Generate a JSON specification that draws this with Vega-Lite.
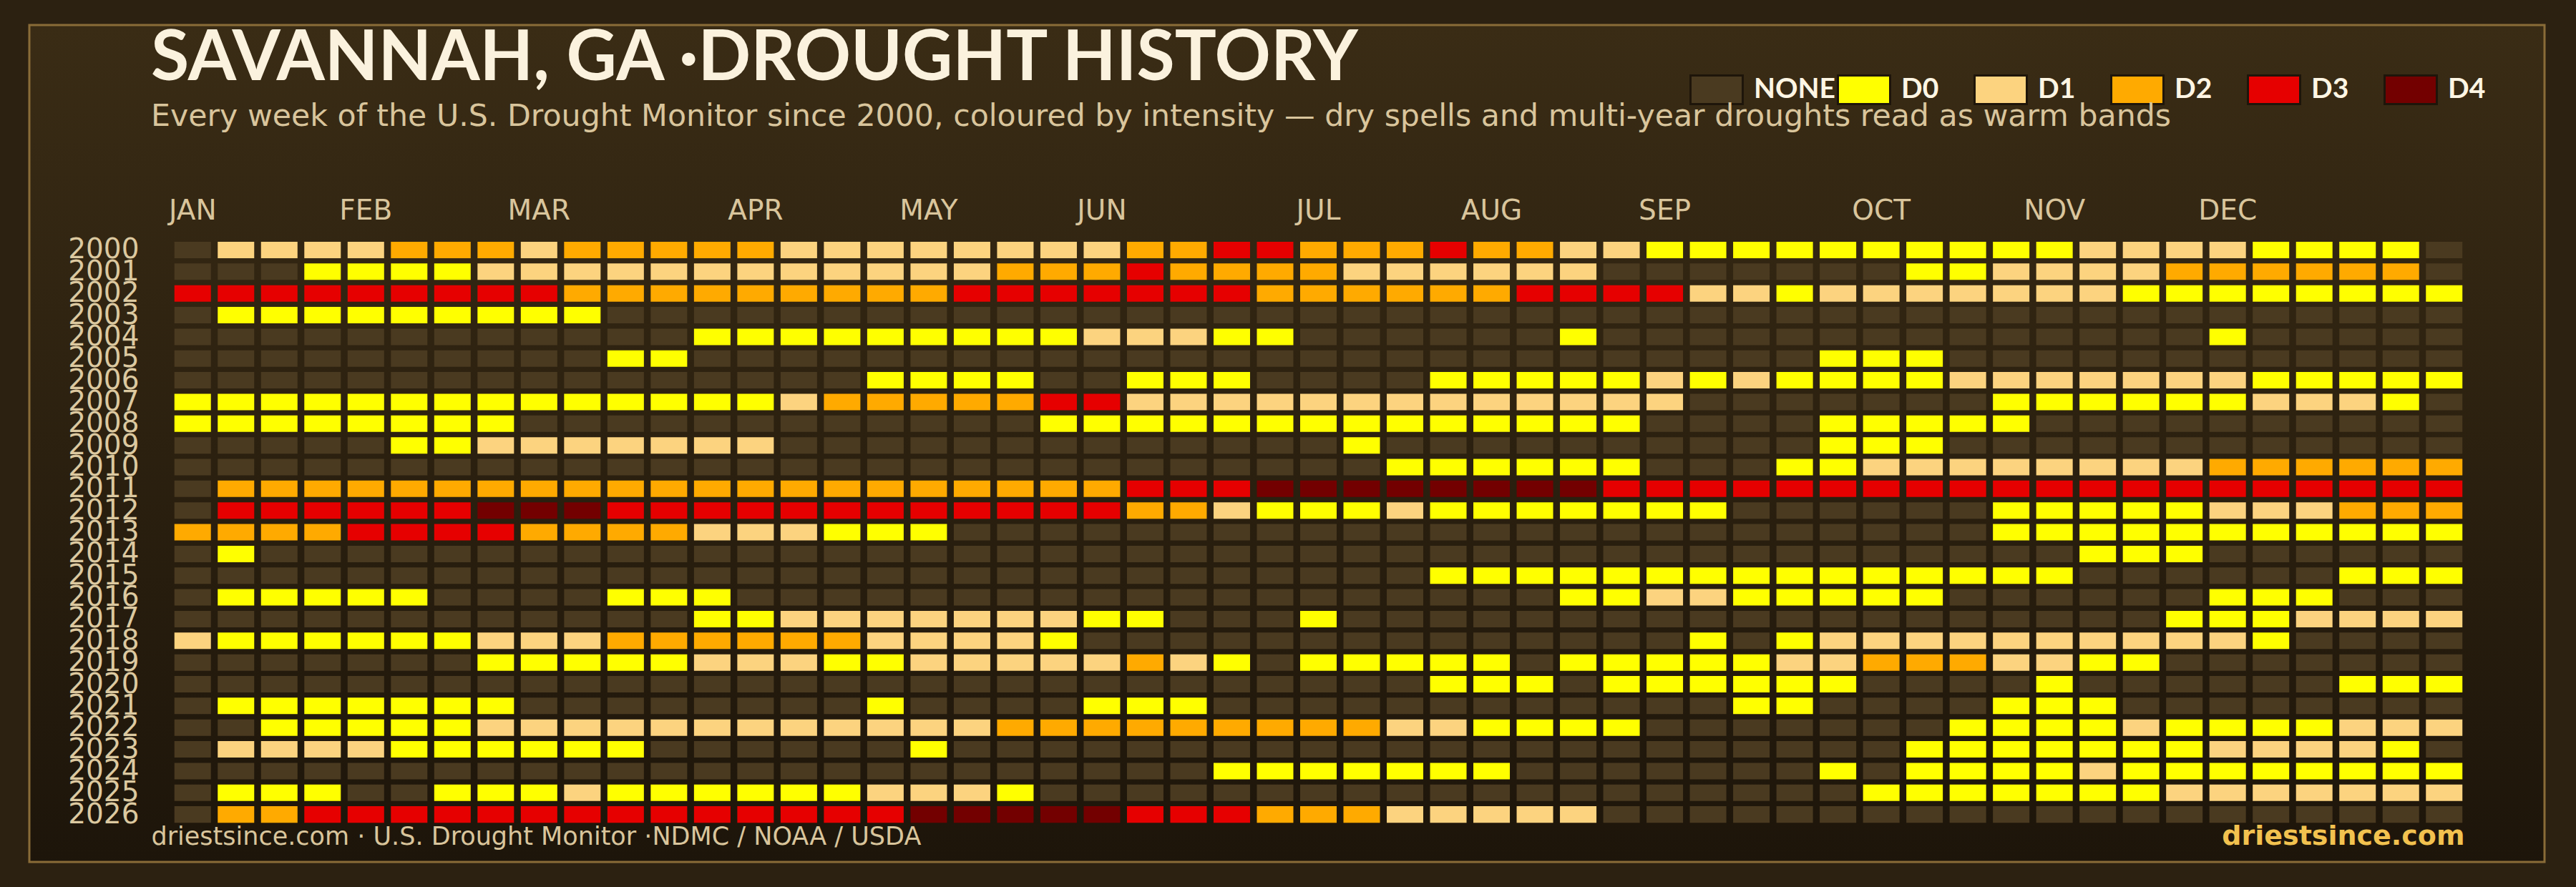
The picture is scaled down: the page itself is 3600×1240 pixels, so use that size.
{
"$schema":"https://vega.github.io/schema/vega-lite/v6.json",
"width":3515,"height":1170,
"autosize":{"type":"none"},
"padding":{"left":41,"top":35,"right":44,"bottom":35},
"background":"#2c2111",
"title":{"text":"SAVANNAH, GA ·DROUGHT HISTORY","subtitle":"Every week of the U.S. Drought Monitor since 2000, coloured by intensity — dry spells and multi-year droughts read as warm bands","anchor":"start","frame":"group","orient":"top","offset":-151,"dx":170,"font":"Lato","fontSize":97,"fontWeight":"bold","color":"#fbf2de","subtitleFont":"DejaVu Sans","subtitleFontSize":42.7,"subtitleColor":"#d9c59c","subtitlePadding":10},
"data":{"values":[
{"year":2000,"week":1,"d":"NONE"},{"year":2000,"week":2,"d":"D1"},{"year":2000,"week":3,"d":"D1"},{"year":2000,"week":4,"d":"D1"},{"year":2000,"week":5,"d":"D1"},{"year":2000,"week":6,"d":"D2"},{"year":2000,"week":7,"d":"D2"},{"year":2000,"week":8,"d":"D2"},{"year":2000,"week":9,"d":"D1"},{"year":2000,"week":10,"d":"D2"},{"year":2000,"week":11,"d":"D2"},{"year":2000,"week":12,"d":"D2"},{"year":2000,"week":13,"d":"D2"},{"year":2000,"week":14,"d":"D2"},{"year":2000,"week":15,"d":"D1"},{"year":2000,"week":16,"d":"D1"},{"year":2000,"week":17,"d":"D1"},{"year":2000,"week":18,"d":"D1"},{"year":2000,"week":19,"d":"D1"},{"year":2000,"week":20,"d":"D1"},{"year":2000,"week":21,"d":"D1"},{"year":2000,"week":22,"d":"D1"},{"year":2000,"week":23,"d":"D2"},{"year":2000,"week":24,"d":"D2"},{"year":2000,"week":25,"d":"D3"},{"year":2000,"week":26,"d":"D3"},{"year":2000,"week":27,"d":"D2"},{"year":2000,"week":28,"d":"D2"},{"year":2000,"week":29,"d":"D2"},{"year":2000,"week":30,"d":"D3"},{"year":2000,"week":31,"d":"D2"},{"year":2000,"week":32,"d":"D2"},{"year":2000,"week":33,"d":"D1"},{"year":2000,"week":34,"d":"D1"},{"year":2000,"week":35,"d":"D0"},{"year":2000,"week":36,"d":"D0"},{"year":2000,"week":37,"d":"D0"},{"year":2000,"week":38,"d":"D0"},{"year":2000,"week":39,"d":"D0"},{"year":2000,"week":40,"d":"D0"},{"year":2000,"week":41,"d":"D0"},{"year":2000,"week":42,"d":"D0"},{"year":2000,"week":43,"d":"D0"},{"year":2000,"week":44,"d":"D0"},{"year":2000,"week":45,"d":"D1"},{"year":2000,"week":46,"d":"D1"},{"year":2000,"week":47,"d":"D1"},{"year":2000,"week":48,"d":"D1"},{"year":2000,"week":49,"d":"D0"},{"year":2000,"week":50,"d":"D0"},{"year":2000,"week":51,"d":"D0"},{"year":2000,"week":52,"d":"D0"},{"year":2000,"week":53,"d":"NONE"},
{"year":2001,"week":1,"d":"NONE"},{"year":2001,"week":2,"d":"NONE"},{"year":2001,"week":3,"d":"NONE"},{"year":2001,"week":4,"d":"D0"},{"year":2001,"week":5,"d":"D0"},{"year":2001,"week":6,"d":"D0"},{"year":2001,"week":7,"d":"D0"},{"year":2001,"week":8,"d":"D1"},{"year":2001,"week":9,"d":"D1"},{"year":2001,"week":10,"d":"D1"},{"year":2001,"week":11,"d":"D1"},{"year":2001,"week":12,"d":"D1"},{"year":2001,"week":13,"d":"D1"},{"year":2001,"week":14,"d":"D1"},{"year":2001,"week":15,"d":"D1"},{"year":2001,"week":16,"d":"D1"},{"year":2001,"week":17,"d":"D1"},{"year":2001,"week":18,"d":"D1"},{"year":2001,"week":19,"d":"D1"},{"year":2001,"week":20,"d":"D2"},{"year":2001,"week":21,"d":"D2"},{"year":2001,"week":22,"d":"D2"},{"year":2001,"week":23,"d":"D3"},{"year":2001,"week":24,"d":"D2"},{"year":2001,"week":25,"d":"D2"},{"year":2001,"week":26,"d":"D2"},{"year":2001,"week":27,"d":"D2"},{"year":2001,"week":28,"d":"D1"},{"year":2001,"week":29,"d":"D1"},{"year":2001,"week":30,"d":"D1"},{"year":2001,"week":31,"d":"D1"},{"year":2001,"week":32,"d":"D1"},{"year":2001,"week":33,"d":"D1"},{"year":2001,"week":34,"d":"NONE"},{"year":2001,"week":35,"d":"NONE"},{"year":2001,"week":36,"d":"NONE"},{"year":2001,"week":37,"d":"NONE"},{"year":2001,"week":38,"d":"NONE"},{"year":2001,"week":39,"d":"NONE"},{"year":2001,"week":40,"d":"NONE"},{"year":2001,"week":41,"d":"D0"},{"year":2001,"week":42,"d":"D0"},{"year":2001,"week":43,"d":"D1"},{"year":2001,"week":44,"d":"D1"},{"year":2001,"week":45,"d":"D1"},{"year":2001,"week":46,"d":"D1"},{"year":2001,"week":47,"d":"D2"},{"year":2001,"week":48,"d":"D2"},{"year":2001,"week":49,"d":"D2"},{"year":2001,"week":50,"d":"D2"},{"year":2001,"week":51,"d":"D2"},{"year":2001,"week":52,"d":"D2"},{"year":2001,"week":53,"d":"NONE"},
{"year":2002,"week":1,"d":"D3"},{"year":2002,"week":2,"d":"D3"},{"year":2002,"week":3,"d":"D3"},{"year":2002,"week":4,"d":"D3"},{"year":2002,"week":5,"d":"D3"},{"year":2002,"week":6,"d":"D3"},{"year":2002,"week":7,"d":"D3"},{"year":2002,"week":8,"d":"D3"},{"year":2002,"week":9,"d":"D3"},{"year":2002,"week":10,"d":"D2"},{"year":2002,"week":11,"d":"D2"},{"year":2002,"week":12,"d":"D2"},{"year":2002,"week":13,"d":"D2"},{"year":2002,"week":14,"d":"D2"},{"year":2002,"week":15,"d":"D2"},{"year":2002,"week":16,"d":"D2"},{"year":2002,"week":17,"d":"D2"},{"year":2002,"week":18,"d":"D2"},{"year":2002,"week":19,"d":"D3"},{"year":2002,"week":20,"d":"D3"},{"year":2002,"week":21,"d":"D3"},{"year":2002,"week":22,"d":"D3"},{"year":2002,"week":23,"d":"D3"},{"year":2002,"week":24,"d":"D3"},{"year":2002,"week":25,"d":"D3"},{"year":2002,"week":26,"d":"D2"},{"year":2002,"week":27,"d":"D2"},{"year":2002,"week":28,"d":"D2"},{"year":2002,"week":29,"d":"D2"},{"year":2002,"week":30,"d":"D2"},{"year":2002,"week":31,"d":"D2"},{"year":2002,"week":32,"d":"D3"},{"year":2002,"week":33,"d":"D3"},{"year":2002,"week":34,"d":"D3"},{"year":2002,"week":35,"d":"D3"},{"year":2002,"week":36,"d":"D1"},{"year":2002,"week":37,"d":"D1"},{"year":2002,"week":38,"d":"D0"},{"year":2002,"week":39,"d":"D1"},{"year":2002,"week":40,"d":"D1"},{"year":2002,"week":41,"d":"D1"},{"year":2002,"week":42,"d":"D1"},{"year":2002,"week":43,"d":"D1"},{"year":2002,"week":44,"d":"D1"},{"year":2002,"week":45,"d":"D1"},{"year":2002,"week":46,"d":"D0"},{"year":2002,"week":47,"d":"D0"},{"year":2002,"week":48,"d":"D0"},{"year":2002,"week":49,"d":"D0"},{"year":2002,"week":50,"d":"D0"},{"year":2002,"week":51,"d":"D0"},{"year":2002,"week":52,"d":"D0"},{"year":2002,"week":53,"d":"D0"},
{"year":2003,"week":1,"d":"NONE"},{"year":2003,"week":2,"d":"D0"},{"year":2003,"week":3,"d":"D0"},{"year":2003,"week":4,"d":"D0"},{"year":2003,"week":5,"d":"D0"},{"year":2003,"week":6,"d":"D0"},{"year":2003,"week":7,"d":"D0"},{"year":2003,"week":8,"d":"D0"},{"year":2003,"week":9,"d":"D0"},{"year":2003,"week":10,"d":"D0"},{"year":2003,"week":11,"d":"NONE"},{"year":2003,"week":12,"d":"NONE"},{"year":2003,"week":13,"d":"NONE"},{"year":2003,"week":14,"d":"NONE"},{"year":2003,"week":15,"d":"NONE"},{"year":2003,"week":16,"d":"NONE"},{"year":2003,"week":17,"d":"NONE"},{"year":2003,"week":18,"d":"NONE"},{"year":2003,"week":19,"d":"NONE"},{"year":2003,"week":20,"d":"NONE"},{"year":2003,"week":21,"d":"NONE"},{"year":2003,"week":22,"d":"NONE"},{"year":2003,"week":23,"d":"NONE"},{"year":2003,"week":24,"d":"NONE"},{"year":2003,"week":25,"d":"NONE"},{"year":2003,"week":26,"d":"NONE"},{"year":2003,"week":27,"d":"NONE"},{"year":2003,"week":28,"d":"NONE"},{"year":2003,"week":29,"d":"NONE"},{"year":2003,"week":30,"d":"NONE"},{"year":2003,"week":31,"d":"NONE"},{"year":2003,"week":32,"d":"NONE"},{"year":2003,"week":33,"d":"NONE"},{"year":2003,"week":34,"d":"NONE"},{"year":2003,"week":35,"d":"NONE"},{"year":2003,"week":36,"d":"NONE"},{"year":2003,"week":37,"d":"NONE"},{"year":2003,"week":38,"d":"NONE"},{"year":2003,"week":39,"d":"NONE"},{"year":2003,"week":40,"d":"NONE"},{"year":2003,"week":41,"d":"NONE"},{"year":2003,"week":42,"d":"NONE"},{"year":2003,"week":43,"d":"NONE"},{"year":2003,"week":44,"d":"NONE"},{"year":2003,"week":45,"d":"NONE"},{"year":2003,"week":46,"d":"NONE"},{"year":2003,"week":47,"d":"NONE"},{"year":2003,"week":48,"d":"NONE"},{"year":2003,"week":49,"d":"NONE"},{"year":2003,"week":50,"d":"NONE"},{"year":2003,"week":51,"d":"NONE"},{"year":2003,"week":52,"d":"NONE"},{"year":2003,"week":53,"d":"NONE"},
{"year":2004,"week":1,"d":"NONE"},{"year":2004,"week":2,"d":"NONE"},{"year":2004,"week":3,"d":"NONE"},{"year":2004,"week":4,"d":"NONE"},{"year":2004,"week":5,"d":"NONE"},{"year":2004,"week":6,"d":"NONE"},{"year":2004,"week":7,"d":"NONE"},{"year":2004,"week":8,"d":"NONE"},{"year":2004,"week":9,"d":"NONE"},{"year":2004,"week":10,"d":"NONE"},{"year":2004,"week":11,"d":"NONE"},{"year":2004,"week":12,"d":"NONE"},{"year":2004,"week":13,"d":"D0"},{"year":2004,"week":14,"d":"D0"},{"year":2004,"week":15,"d":"D0"},{"year":2004,"week":16,"d":"D0"},{"year":2004,"week":17,"d":"D0"},{"year":2004,"week":18,"d":"D0"},{"year":2004,"week":19,"d":"D0"},{"year":2004,"week":20,"d":"D0"},{"year":2004,"week":21,"d":"D0"},{"year":2004,"week":22,"d":"D1"},{"year":2004,"week":23,"d":"D1"},{"year":2004,"week":24,"d":"D1"},{"year":2004,"week":25,"d":"D0"},{"year":2004,"week":26,"d":"D0"},{"year":2004,"week":27,"d":"NONE"},{"year":2004,"week":28,"d":"NONE"},{"year":2004,"week":29,"d":"NONE"},{"year":2004,"week":30,"d":"NONE"},{"year":2004,"week":31,"d":"NONE"},{"year":2004,"week":32,"d":"NONE"},{"year":2004,"week":33,"d":"D0"},{"year":2004,"week":34,"d":"NONE"},{"year":2004,"week":35,"d":"NONE"},{"year":2004,"week":36,"d":"NONE"},{"year":2004,"week":37,"d":"NONE"},{"year":2004,"week":38,"d":"NONE"},{"year":2004,"week":39,"d":"NONE"},{"year":2004,"week":40,"d":"NONE"},{"year":2004,"week":41,"d":"NONE"},{"year":2004,"week":42,"d":"NONE"},{"year":2004,"week":43,"d":"NONE"},{"year":2004,"week":44,"d":"NONE"},{"year":2004,"week":45,"d":"NONE"},{"year":2004,"week":46,"d":"NONE"},{"year":2004,"week":47,"d":"NONE"},{"year":2004,"week":48,"d":"D0"},{"year":2004,"week":49,"d":"NONE"},{"year":2004,"week":50,"d":"NONE"},{"year":2004,"week":51,"d":"NONE"},{"year":2004,"week":52,"d":"NONE"},{"year":2004,"week":53,"d":"NONE"},
{"year":2005,"week":1,"d":"NONE"},{"year":2005,"week":2,"d":"NONE"},{"year":2005,"week":3,"d":"NONE"},{"year":2005,"week":4,"d":"NONE"},{"year":2005,"week":5,"d":"NONE"},{"year":2005,"week":6,"d":"NONE"},{"year":2005,"week":7,"d":"NONE"},{"year":2005,"week":8,"d":"NONE"},{"year":2005,"week":9,"d":"NONE"},{"year":2005,"week":10,"d":"NONE"},{"year":2005,"week":11,"d":"D0"},{"year":2005,"week":12,"d":"D0"},{"year":2005,"week":13,"d":"NONE"},{"year":2005,"week":14,"d":"NONE"},{"year":2005,"week":15,"d":"NONE"},{"year":2005,"week":16,"d":"NONE"},{"year":2005,"week":17,"d":"NONE"},{"year":2005,"week":18,"d":"NONE"},{"year":2005,"week":19,"d":"NONE"},{"year":2005,"week":20,"d":"NONE"},{"year":2005,"week":21,"d":"NONE"},{"year":2005,"week":22,"d":"NONE"},{"year":2005,"week":23,"d":"NONE"},{"year":2005,"week":24,"d":"NONE"},{"year":2005,"week":25,"d":"NONE"},{"year":2005,"week":26,"d":"NONE"},{"year":2005,"week":27,"d":"NONE"},{"year":2005,"week":28,"d":"NONE"},{"year":2005,"week":29,"d":"NONE"},{"year":2005,"week":30,"d":"NONE"},{"year":2005,"week":31,"d":"NONE"},{"year":2005,"week":32,"d":"NONE"},{"year":2005,"week":33,"d":"NONE"},{"year":2005,"week":34,"d":"NONE"},{"year":2005,"week":35,"d":"NONE"},{"year":2005,"week":36,"d":"NONE"},{"year":2005,"week":37,"d":"NONE"},{"year":2005,"week":38,"d":"NONE"},{"year":2005,"week":39,"d":"D0"},{"year":2005,"week":40,"d":"D0"},{"year":2005,"week":41,"d":"D0"},{"year":2005,"week":42,"d":"NONE"},{"year":2005,"week":43,"d":"NONE"},{"year":2005,"week":44,"d":"NONE"},{"year":2005,"week":45,"d":"NONE"},{"year":2005,"week":46,"d":"NONE"},{"year":2005,"week":47,"d":"NONE"},{"year":2005,"week":48,"d":"NONE"},{"year":2005,"week":49,"d":"NONE"},{"year":2005,"week":50,"d":"NONE"},{"year":2005,"week":51,"d":"NONE"},{"year":2005,"week":52,"d":"NONE"},{"year":2005,"week":53,"d":"NONE"},
{"year":2006,"week":1,"d":"NONE"},{"year":2006,"week":2,"d":"NONE"},{"year":2006,"week":3,"d":"NONE"},{"year":2006,"week":4,"d":"NONE"},{"year":2006,"week":5,"d":"NONE"},{"year":2006,"week":6,"d":"NONE"},{"year":2006,"week":7,"d":"NONE"},{"year":2006,"week":8,"d":"NONE"},{"year":2006,"week":9,"d":"NONE"},{"year":2006,"week":10,"d":"NONE"},{"year":2006,"week":11,"d":"NONE"},{"year":2006,"week":12,"d":"NONE"},{"year":2006,"week":13,"d":"NONE"},{"year":2006,"week":14,"d":"NONE"},{"year":2006,"week":15,"d":"NONE"},{"year":2006,"week":16,"d":"NONE"},{"year":2006,"week":17,"d":"D0"},{"year":2006,"week":18,"d":"D0"},{"year":2006,"week":19,"d":"D0"},{"year":2006,"week":20,"d":"D0"},{"year":2006,"week":21,"d":"NONE"},{"year":2006,"week":22,"d":"NONE"},{"year":2006,"week":23,"d":"D0"},{"year":2006,"week":24,"d":"D0"},{"year":2006,"week":25,"d":"D0"},{"year":2006,"week":26,"d":"NONE"},{"year":2006,"week":27,"d":"NONE"},{"year":2006,"week":28,"d":"NONE"},{"year":2006,"week":29,"d":"NONE"},{"year":2006,"week":30,"d":"D0"},{"year":2006,"week":31,"d":"D0"},{"year":2006,"week":32,"d":"D0"},{"year":2006,"week":33,"d":"D0"},{"year":2006,"week":34,"d":"D0"},{"year":2006,"week":35,"d":"D1"},{"year":2006,"week":36,"d":"D0"},{"year":2006,"week":37,"d":"D1"},{"year":2006,"week":38,"d":"D0"},{"year":2006,"week":39,"d":"D0"},{"year":2006,"week":40,"d":"D0"},{"year":2006,"week":41,"d":"D0"},{"year":2006,"week":42,"d":"D1"},{"year":2006,"week":43,"d":"D1"},{"year":2006,"week":44,"d":"D1"},{"year":2006,"week":45,"d":"D1"},{"year":2006,"week":46,"d":"D1"},{"year":2006,"week":47,"d":"D1"},{"year":2006,"week":48,"d":"D1"},{"year":2006,"week":49,"d":"D0"},{"year":2006,"week":50,"d":"D0"},{"year":2006,"week":51,"d":"D0"},{"year":2006,"week":52,"d":"D0"},{"year":2006,"week":53,"d":"D0"},
{"year":2007,"week":1,"d":"D0"},{"year":2007,"week":2,"d":"D0"},{"year":2007,"week":3,"d":"D0"},{"year":2007,"week":4,"d":"D0"},{"year":2007,"week":5,"d":"D0"},{"year":2007,"week":6,"d":"D0"},{"year":2007,"week":7,"d":"D0"},{"year":2007,"week":8,"d":"D0"},{"year":2007,"week":9,"d":"D0"},{"year":2007,"week":10,"d":"D0"},{"year":2007,"week":11,"d":"D0"},{"year":2007,"week":12,"d":"D0"},{"year":2007,"week":13,"d":"D0"},{"year":2007,"week":14,"d":"D0"},{"year":2007,"week":15,"d":"D1"},{"year":2007,"week":16,"d":"D2"},{"year":2007,"week":17,"d":"D2"},{"year":2007,"week":18,"d":"D2"},{"year":2007,"week":19,"d":"D2"},{"year":2007,"week":20,"d":"D2"},{"year":2007,"week":21,"d":"D3"},{"year":2007,"week":22,"d":"D3"},{"year":2007,"week":23,"d":"D1"},{"year":2007,"week":24,"d":"D1"},{"year":2007,"week":25,"d":"D1"},{"year":2007,"week":26,"d":"D1"},{"year":2007,"week":27,"d":"D1"},{"year":2007,"week":28,"d":"D1"},{"year":2007,"week":29,"d":"D1"},{"year":2007,"week":30,"d":"D1"},{"year":2007,"week":31,"d":"D1"},{"year":2007,"week":32,"d":"D1"},{"year":2007,"week":33,"d":"D1"},{"year":2007,"week":34,"d":"D1"},{"year":2007,"week":35,"d":"D1"},{"year":2007,"week":36,"d":"NONE"},{"year":2007,"week":37,"d":"NONE"},{"year":2007,"week":38,"d":"NONE"},{"year":2007,"week":39,"d":"NONE"},{"year":2007,"week":40,"d":"NONE"},{"year":2007,"week":41,"d":"NONE"},{"year":2007,"week":42,"d":"NONE"},{"year":2007,"week":43,"d":"D0"},{"year":2007,"week":44,"d":"D0"},{"year":2007,"week":45,"d":"D0"},{"year":2007,"week":46,"d":"D0"},{"year":2007,"week":47,"d":"D0"},{"year":2007,"week":48,"d":"D0"},{"year":2007,"week":49,"d":"D1"},{"year":2007,"week":50,"d":"D1"},{"year":2007,"week":51,"d":"D1"},{"year":2007,"week":52,"d":"D0"},{"year":2007,"week":53,"d":"NONE"},
{"year":2008,"week":1,"d":"D0"},{"year":2008,"week":2,"d":"D0"},{"year":2008,"week":3,"d":"D0"},{"year":2008,"week":4,"d":"D0"},{"year":2008,"week":5,"d":"D0"},{"year":2008,"week":6,"d":"D0"},{"year":2008,"week":7,"d":"D0"},{"year":2008,"week":8,"d":"D0"},{"year":2008,"week":9,"d":"NONE"},{"year":2008,"week":10,"d":"NONE"},{"year":2008,"week":11,"d":"NONE"},{"year":2008,"week":12,"d":"NONE"},{"year":2008,"week":13,"d":"NONE"},{"year":2008,"week":14,"d":"NONE"},{"year":2008,"week":15,"d":"NONE"},{"year":2008,"week":16,"d":"NONE"},{"year":2008,"week":17,"d":"NONE"},{"year":2008,"week":18,"d":"NONE"},{"year":2008,"week":19,"d":"NONE"},{"year":2008,"week":20,"d":"NONE"},{"year":2008,"week":21,"d":"D0"},{"year":2008,"week":22,"d":"D0"},{"year":2008,"week":23,"d":"D0"},{"year":2008,"week":24,"d":"D0"},{"year":2008,"week":25,"d":"D0"},{"year":2008,"week":26,"d":"D0"},{"year":2008,"week":27,"d":"D0"},{"year":2008,"week":28,"d":"D0"},{"year":2008,"week":29,"d":"D0"},{"year":2008,"week":30,"d":"D0"},{"year":2008,"week":31,"d":"D0"},{"year":2008,"week":32,"d":"D0"},{"year":2008,"week":33,"d":"D0"},{"year":2008,"week":34,"d":"D0"},{"year":2008,"week":35,"d":"NONE"},{"year":2008,"week":36,"d":"NONE"},{"year":2008,"week":37,"d":"NONE"},{"year":2008,"week":38,"d":"NONE"},{"year":2008,"week":39,"d":"D0"},{"year":2008,"week":40,"d":"D0"},{"year":2008,"week":41,"d":"D0"},{"year":2008,"week":42,"d":"D0"},{"year":2008,"week":43,"d":"D0"},{"year":2008,"week":44,"d":"NONE"},{"year":2008,"week":45,"d":"NONE"},{"year":2008,"week":46,"d":"NONE"},{"year":2008,"week":47,"d":"NONE"},{"year":2008,"week":48,"d":"NONE"},{"year":2008,"week":49,"d":"NONE"},{"year":2008,"week":50,"d":"NONE"},{"year":2008,"week":51,"d":"NONE"},{"year":2008,"week":52,"d":"NONE"},{"year":2008,"week":53,"d":"NONE"},
{"year":2009,"week":1,"d":"NONE"},{"year":2009,"week":2,"d":"NONE"},{"year":2009,"week":3,"d":"NONE"},{"year":2009,"week":4,"d":"NONE"},{"year":2009,"week":5,"d":"NONE"},{"year":2009,"week":6,"d":"D0"},{"year":2009,"week":7,"d":"D0"},{"year":2009,"week":8,"d":"D1"},{"year":2009,"week":9,"d":"D1"},{"year":2009,"week":10,"d":"D1"},{"year":2009,"week":11,"d":"D1"},{"year":2009,"week":12,"d":"D1"},{"year":2009,"week":13,"d":"D1"},{"year":2009,"week":14,"d":"D1"},{"year":2009,"week":15,"d":"NONE"},{"year":2009,"week":16,"d":"NONE"},{"year":2009,"week":17,"d":"NONE"},{"year":2009,"week":18,"d":"NONE"},{"year":2009,"week":19,"d":"NONE"},{"year":2009,"week":20,"d":"NONE"},{"year":2009,"week":21,"d":"NONE"},{"year":2009,"week":22,"d":"NONE"},{"year":2009,"week":23,"d":"NONE"},{"year":2009,"week":24,"d":"NONE"},{"year":2009,"week":25,"d":"NONE"},{"year":2009,"week":26,"d":"NONE"},{"year":2009,"week":27,"d":"NONE"},{"year":2009,"week":28,"d":"D0"},{"year":2009,"week":29,"d":"NONE"},{"year":2009,"week":30,"d":"NONE"},{"year":2009,"week":31,"d":"NONE"},{"year":2009,"week":32,"d":"NONE"},{"year":2009,"week":33,"d":"NONE"},{"year":2009,"week":34,"d":"NONE"},{"year":2009,"week":35,"d":"NONE"},{"year":2009,"week":36,"d":"NONE"},{"year":2009,"week":37,"d":"NONE"},{"year":2009,"week":38,"d":"NONE"},{"year":2009,"week":39,"d":"D0"},{"year":2009,"week":40,"d":"D0"},{"year":2009,"week":41,"d":"D0"},{"year":2009,"week":42,"d":"NONE"},{"year":2009,"week":43,"d":"NONE"},{"year":2009,"week":44,"d":"NONE"},{"year":2009,"week":45,"d":"NONE"},{"year":2009,"week":46,"d":"NONE"},{"year":2009,"week":47,"d":"NONE"},{"year":2009,"week":48,"d":"NONE"},{"year":2009,"week":49,"d":"NONE"},{"year":2009,"week":50,"d":"NONE"},{"year":2009,"week":51,"d":"NONE"},{"year":2009,"week":52,"d":"NONE"},{"year":2009,"week":53,"d":"NONE"},
{"year":2010,"week":1,"d":"NONE"},{"year":2010,"week":2,"d":"NONE"},{"year":2010,"week":3,"d":"NONE"},{"year":2010,"week":4,"d":"NONE"},{"year":2010,"week":5,"d":"NONE"},{"year":2010,"week":6,"d":"NONE"},{"year":2010,"week":7,"d":"NONE"},{"year":2010,"week":8,"d":"NONE"},{"year":2010,"week":9,"d":"NONE"},{"year":2010,"week":10,"d":"NONE"},{"year":2010,"week":11,"d":"NONE"},{"year":2010,"week":12,"d":"NONE"},{"year":2010,"week":13,"d":"NONE"},{"year":2010,"week":14,"d":"NONE"},{"year":2010,"week":15,"d":"NONE"},{"year":2010,"week":16,"d":"NONE"},{"year":2010,"week":17,"d":"NONE"},{"year":2010,"week":18,"d":"NONE"},{"year":2010,"week":19,"d":"NONE"},{"year":2010,"week":20,"d":"NONE"},{"year":2010,"week":21,"d":"NONE"},{"year":2010,"week":22,"d":"NONE"},{"year":2010,"week":23,"d":"NONE"},{"year":2010,"week":24,"d":"NONE"},{"year":2010,"week":25,"d":"NONE"},{"year":2010,"week":26,"d":"NONE"},{"year":2010,"week":27,"d":"NONE"},{"year":2010,"week":28,"d":"NONE"},{"year":2010,"week":29,"d":"D0"},{"year":2010,"week":30,"d":"D0"},{"year":2010,"week":31,"d":"D0"},{"year":2010,"week":32,"d":"D0"},{"year":2010,"week":33,"d":"D0"},{"year":2010,"week":34,"d":"D0"},{"year":2010,"week":35,"d":"NONE"},{"year":2010,"week":36,"d":"NONE"},{"year":2010,"week":37,"d":"NONE"},{"year":2010,"week":38,"d":"D0"},{"year":2010,"week":39,"d":"D0"},{"year":2010,"week":40,"d":"D1"},{"year":2010,"week":41,"d":"D1"},{"year":2010,"week":42,"d":"D1"},{"year":2010,"week":43,"d":"D1"},{"year":2010,"week":44,"d":"D1"},{"year":2010,"week":45,"d":"D1"},{"year":2010,"week":46,"d":"D1"},{"year":2010,"week":47,"d":"D1"},{"year":2010,"week":48,"d":"D2"},{"year":2010,"week":49,"d":"D2"},{"year":2010,"week":50,"d":"D2"},{"year":2010,"week":51,"d":"D2"},{"year":2010,"week":52,"d":"D2"},{"year":2010,"week":53,"d":"D2"},
{"year":2011,"week":1,"d":"NONE"},{"year":2011,"week":2,"d":"D2"},{"year":2011,"week":3,"d":"D2"},{"year":2011,"week":4,"d":"D2"},{"year":2011,"week":5,"d":"D2"},{"year":2011,"week":6,"d":"D2"},{"year":2011,"week":7,"d":"D2"},{"year":2011,"week":8,"d":"D2"},{"year":2011,"week":9,"d":"D2"},{"year":2011,"week":10,"d":"D2"},{"year":2011,"week":11,"d":"D2"},{"year":2011,"week":12,"d":"D2"},{"year":2011,"week":13,"d":"D2"},{"year":2011,"week":14,"d":"D2"},{"year":2011,"week":15,"d":"D2"},{"year":2011,"week":16,"d":"D2"},{"year":2011,"week":17,"d":"D2"},{"year":2011,"week":18,"d":"D2"},{"year":2011,"week":19,"d":"D2"},{"year":2011,"week":20,"d":"D2"},{"year":2011,"week":21,"d":"D2"},{"year":2011,"week":22,"d":"D2"},{"year":2011,"week":23,"d":"D3"},{"year":2011,"week":24,"d":"D3"},{"year":2011,"week":25,"d":"D3"},{"year":2011,"week":26,"d":"D4"},{"year":2011,"week":27,"d":"D4"},{"year":2011,"week":28,"d":"D4"},{"year":2011,"week":29,"d":"D4"},{"year":2011,"week":30,"d":"D4"},{"year":2011,"week":31,"d":"D4"},{"year":2011,"week":32,"d":"D4"},{"year":2011,"week":33,"d":"D4"},{"year":2011,"week":34,"d":"D3"},{"year":2011,"week":35,"d":"D3"},{"year":2011,"week":36,"d":"D3"},{"year":2011,"week":37,"d":"D3"},{"year":2011,"week":38,"d":"D3"},{"year":2011,"week":39,"d":"D3"},{"year":2011,"week":40,"d":"D3"},{"year":2011,"week":41,"d":"D3"},{"year":2011,"week":42,"d":"D3"},{"year":2011,"week":43,"d":"D3"},{"year":2011,"week":44,"d":"D3"},{"year":2011,"week":45,"d":"D3"},{"year":2011,"week":46,"d":"D3"},{"year":2011,"week":47,"d":"D3"},{"year":2011,"week":48,"d":"D3"},{"year":2011,"week":49,"d":"D3"},{"year":2011,"week":50,"d":"D3"},{"year":2011,"week":51,"d":"D3"},{"year":2011,"week":52,"d":"D3"},{"year":2011,"week":53,"d":"D3"},
{"year":2012,"week":1,"d":"NONE"},{"year":2012,"week":2,"d":"D3"},{"year":2012,"week":3,"d":"D3"},{"year":2012,"week":4,"d":"D3"},{"year":2012,"week":5,"d":"D3"},{"year":2012,"week":6,"d":"D3"},{"year":2012,"week":7,"d":"D3"},{"year":2012,"week":8,"d":"D4"},{"year":2012,"week":9,"d":"D4"},{"year":2012,"week":10,"d":"D4"},{"year":2012,"week":11,"d":"D3"},{"year":2012,"week":12,"d":"D3"},{"year":2012,"week":13,"d":"D3"},{"year":2012,"week":14,"d":"D3"},{"year":2012,"week":15,"d":"D3"},{"year":2012,"week":16,"d":"D3"},{"year":2012,"week":17,"d":"D3"},{"year":2012,"week":18,"d":"D3"},{"year":2012,"week":19,"d":"D3"},{"year":2012,"week":20,"d":"D3"},{"year":2012,"week":21,"d":"D3"},{"year":2012,"week":22,"d":"D3"},{"year":2012,"week":23,"d":"D2"},{"year":2012,"week":24,"d":"D2"},{"year":2012,"week":25,"d":"D1"},{"year":2012,"week":26,"d":"D0"},{"year":2012,"week":27,"d":"D0"},{"year":2012,"week":28,"d":"D0"},{"year":2012,"week":29,"d":"D1"},{"year":2012,"week":30,"d":"D0"},{"year":2012,"week":31,"d":"D0"},{"year":2012,"week":32,"d":"D0"},{"year":2012,"week":33,"d":"D0"},{"year":2012,"week":34,"d":"D0"},{"year":2012,"week":35,"d":"D0"},{"year":2012,"week":36,"d":"D0"},{"year":2012,"week":37,"d":"NONE"},{"year":2012,"week":38,"d":"NONE"},{"year":2012,"week":39,"d":"NONE"},{"year":2012,"week":40,"d":"NONE"},{"year":2012,"week":41,"d":"NONE"},{"year":2012,"week":42,"d":"NONE"},{"year":2012,"week":43,"d":"D0"},{"year":2012,"week":44,"d":"D0"},{"year":2012,"week":45,"d":"D0"},{"year":2012,"week":46,"d":"D0"},{"year":2012,"week":47,"d":"D0"},{"year":2012,"week":48,"d":"D1"},{"year":2012,"week":49,"d":"D1"},{"year":2012,"week":50,"d":"D1"},{"year":2012,"week":51,"d":"D2"},{"year":2012,"week":52,"d":"D2"},{"year":2012,"week":53,"d":"D2"},
{"year":2013,"week":1,"d":"D2"},{"year":2013,"week":2,"d":"D2"},{"year":2013,"week":3,"d":"D2"},{"year":2013,"week":4,"d":"D2"},{"year":2013,"week":5,"d":"D3"},{"year":2013,"week":6,"d":"D3"},{"year":2013,"week":7,"d":"D3"},{"year":2013,"week":8,"d":"D3"},{"year":2013,"week":9,"d":"D2"},{"year":2013,"week":10,"d":"D2"},{"year":2013,"week":11,"d":"D2"},{"year":2013,"week":12,"d":"D2"},{"year":2013,"week":13,"d":"D1"},{"year":2013,"week":14,"d":"D1"},{"year":2013,"week":15,"d":"D1"},{"year":2013,"week":16,"d":"D0"},{"year":2013,"week":17,"d":"D0"},{"year":2013,"week":18,"d":"D0"},{"year":2013,"week":19,"d":"NONE"},{"year":2013,"week":20,"d":"NONE"},{"year":2013,"week":21,"d":"NONE"},{"year":2013,"week":22,"d":"NONE"},{"year":2013,"week":23,"d":"NONE"},{"year":2013,"week":24,"d":"NONE"},{"year":2013,"week":25,"d":"NONE"},{"year":2013,"week":26,"d":"NONE"},{"year":2013,"week":27,"d":"NONE"},{"year":2013,"week":28,"d":"NONE"},{"year":2013,"week":29,"d":"NONE"},{"year":2013,"week":30,"d":"NONE"},{"year":2013,"week":31,"d":"NONE"},{"year":2013,"week":32,"d":"NONE"},{"year":2013,"week":33,"d":"NONE"},{"year":2013,"week":34,"d":"NONE"},{"year":2013,"week":35,"d":"NONE"},{"year":2013,"week":36,"d":"NONE"},{"year":2013,"week":37,"d":"NONE"},{"year":2013,"week":38,"d":"NONE"},{"year":2013,"week":39,"d":"NONE"},{"year":2013,"week":40,"d":"NONE"},{"year":2013,"week":41,"d":"NONE"},{"year":2013,"week":42,"d":"NONE"},{"year":2013,"week":43,"d":"D0"},{"year":2013,"week":44,"d":"D0"},{"year":2013,"week":45,"d":"D0"},{"year":2013,"week":46,"d":"D0"},{"year":2013,"week":47,"d":"D0"},{"year":2013,"week":48,"d":"D0"},{"year":2013,"week":49,"d":"D0"},{"year":2013,"week":50,"d":"D0"},{"year":2013,"week":51,"d":"D0"},{"year":2013,"week":52,"d":"D0"},{"year":2013,"week":53,"d":"D0"},
{"year":2014,"week":1,"d":"NONE"},{"year":2014,"week":2,"d":"D0"},{"year":2014,"week":3,"d":"NONE"},{"year":2014,"week":4,"d":"NONE"},{"year":2014,"week":5,"d":"NONE"},{"year":2014,"week":6,"d":"NONE"},{"year":2014,"week":7,"d":"NONE"},{"year":2014,"week":8,"d":"NONE"},{"year":2014,"week":9,"d":"NONE"},{"year":2014,"week":10,"d":"NONE"},{"year":2014,"week":11,"d":"NONE"},{"year":2014,"week":12,"d":"NONE"},{"year":2014,"week":13,"d":"NONE"},{"year":2014,"week":14,"d":"NONE"},{"year":2014,"week":15,"d":"NONE"},{"year":2014,"week":16,"d":"NONE"},{"year":2014,"week":17,"d":"NONE"},{"year":2014,"week":18,"d":"NONE"},{"year":2014,"week":19,"d":"NONE"},{"year":2014,"week":20,"d":"NONE"},{"year":2014,"week":21,"d":"NONE"},{"year":2014,"week":22,"d":"NONE"},{"year":2014,"week":23,"d":"NONE"},{"year":2014,"week":24,"d":"NONE"},{"year":2014,"week":25,"d":"NONE"},{"year":2014,"week":26,"d":"NONE"},{"year":2014,"week":27,"d":"NONE"},{"year":2014,"week":28,"d":"NONE"},{"year":2014,"week":29,"d":"NONE"},{"year":2014,"week":30,"d":"NONE"},{"year":2014,"week":31,"d":"NONE"},{"year":2014,"week":32,"d":"NONE"},{"year":2014,"week":33,"d":"NONE"},{"year":2014,"week":34,"d":"NONE"},{"year":2014,"week":35,"d":"NONE"},{"year":2014,"week":36,"d":"NONE"},{"year":2014,"week":37,"d":"NONE"},{"year":2014,"week":38,"d":"NONE"},{"year":2014,"week":39,"d":"NONE"},{"year":2014,"week":40,"d":"NONE"},{"year":2014,"week":41,"d":"NONE"},{"year":2014,"week":42,"d":"NONE"},{"year":2014,"week":43,"d":"NONE"},{"year":2014,"week":44,"d":"NONE"},{"year":2014,"week":45,"d":"D0"},{"year":2014,"week":46,"d":"D0"},{"year":2014,"week":47,"d":"D0"},{"year":2014,"week":48,"d":"NONE"},{"year":2014,"week":49,"d":"NONE"},{"year":2014,"week":50,"d":"NONE"},{"year":2014,"week":51,"d":"NONE"},{"year":2014,"week":52,"d":"NONE"},{"year":2014,"week":53,"d":"NONE"},
{"year":2015,"week":1,"d":"NONE"},{"year":2015,"week":2,"d":"NONE"},{"year":2015,"week":3,"d":"NONE"},{"year":2015,"week":4,"d":"NONE"},{"year":2015,"week":5,"d":"NONE"},{"year":2015,"week":6,"d":"NONE"},{"year":2015,"week":7,"d":"NONE"},{"year":2015,"week":8,"d":"NONE"},{"year":2015,"week":9,"d":"NONE"},{"year":2015,"week":10,"d":"NONE"},{"year":2015,"week":11,"d":"NONE"},{"year":2015,"week":12,"d":"NONE"},{"year":2015,"week":13,"d":"NONE"},{"year":2015,"week":14,"d":"NONE"},{"year":2015,"week":15,"d":"NONE"},{"year":2015,"week":16,"d":"NONE"},{"year":2015,"week":17,"d":"NONE"},{"year":2015,"week":18,"d":"NONE"},{"year":2015,"week":19,"d":"NONE"},{"year":2015,"week":20,"d":"NONE"},{"year":2015,"week":21,"d":"NONE"},{"year":2015,"week":22,"d":"NONE"},{"year":2015,"week":23,"d":"NONE"},{"year":2015,"week":24,"d":"NONE"},{"year":2015,"week":25,"d":"NONE"},{"year":2015,"week":26,"d":"NONE"},{"year":2015,"week":27,"d":"NONE"},{"year":2015,"week":28,"d":"NONE"},{"year":2015,"week":29,"d":"NONE"},{"year":2015,"week":30,"d":"D0"},{"year":2015,"week":31,"d":"D0"},{"year":2015,"week":32,"d":"D0"},{"year":2015,"week":33,"d":"D0"},{"year":2015,"week":34,"d":"D0"},{"year":2015,"week":35,"d":"D0"},{"year":2015,"week":36,"d":"D0"},{"year":2015,"week":37,"d":"D0"},{"year":2015,"week":38,"d":"D0"},{"year":2015,"week":39,"d":"D0"},{"year":2015,"week":40,"d":"D0"},{"year":2015,"week":41,"d":"D0"},{"year":2015,"week":42,"d":"D0"},{"year":2015,"week":43,"d":"D0"},{"year":2015,"week":44,"d":"D0"},{"year":2015,"week":45,"d":"NONE"},{"year":2015,"week":46,"d":"NONE"},{"year":2015,"week":47,"d":"NONE"},{"year":2015,"week":48,"d":"NONE"},{"year":2015,"week":49,"d":"NONE"},{"year":2015,"week":50,"d":"NONE"},{"year":2015,"week":51,"d":"D0"},{"year":2015,"week":52,"d":"D0"},{"year":2015,"week":53,"d":"D0"},
{"year":2016,"week":1,"d":"NONE"},{"year":2016,"week":2,"d":"D0"},{"year":2016,"week":3,"d":"D0"},{"year":2016,"week":4,"d":"D0"},{"year":2016,"week":5,"d":"D0"},{"year":2016,"week":6,"d":"D0"},{"year":2016,"week":7,"d":"NONE"},{"year":2016,"week":8,"d":"NONE"},{"year":2016,"week":9,"d":"NONE"},{"year":2016,"week":10,"d":"NONE"},{"year":2016,"week":11,"d":"D0"},{"year":2016,"week":12,"d":"D0"},{"year":2016,"week":13,"d":"D0"},{"year":2016,"week":14,"d":"NONE"},{"year":2016,"week":15,"d":"NONE"},{"year":2016,"week":16,"d":"NONE"},{"year":2016,"week":17,"d":"NONE"},{"year":2016,"week":18,"d":"NONE"},{"year":2016,"week":19,"d":"NONE"},{"year":2016,"week":20,"d":"NONE"},{"year":2016,"week":21,"d":"NONE"},{"year":2016,"week":22,"d":"NONE"},{"year":2016,"week":23,"d":"NONE"},{"year":2016,"week":24,"d":"NONE"},{"year":2016,"week":25,"d":"NONE"},{"year":2016,"week":26,"d":"NONE"},{"year":2016,"week":27,"d":"NONE"},{"year":2016,"week":28,"d":"NONE"},{"year":2016,"week":29,"d":"NONE"},{"year":2016,"week":30,"d":"NONE"},{"year":2016,"week":31,"d":"NONE"},{"year":2016,"week":32,"d":"NONE"},{"year":2016,"week":33,"d":"D0"},{"year":2016,"week":34,"d":"D0"},{"year":2016,"week":35,"d":"D1"},{"year":2016,"week":36,"d":"D1"},{"year":2016,"week":37,"d":"D0"},{"year":2016,"week":38,"d":"D0"},{"year":2016,"week":39,"d":"D0"},{"year":2016,"week":40,"d":"D0"},{"year":2016,"week":41,"d":"D0"},{"year":2016,"week":42,"d":"NONE"},{"year":2016,"week":43,"d":"NONE"},{"year":2016,"week":44,"d":"NONE"},{"year":2016,"week":45,"d":"NONE"},{"year":2016,"week":46,"d":"NONE"},{"year":2016,"week":47,"d":"NONE"},{"year":2016,"week":48,"d":"D0"},{"year":2016,"week":49,"d":"D0"},{"year":2016,"week":50,"d":"D0"},{"year":2016,"week":51,"d":"NONE"},{"year":2016,"week":52,"d":"NONE"},{"year":2016,"week":53,"d":"NONE"},
{"year":2017,"week":1,"d":"NONE"},{"year":2017,"week":2,"d":"NONE"},{"year":2017,"week":3,"d":"NONE"},{"year":2017,"week":4,"d":"NONE"},{"year":2017,"week":5,"d":"NONE"},{"year":2017,"week":6,"d":"NONE"},{"year":2017,"week":7,"d":"NONE"},{"year":2017,"week":8,"d":"NONE"},{"year":2017,"week":9,"d":"NONE"},{"year":2017,"week":10,"d":"NONE"},{"year":2017,"week":11,"d":"NONE"},{"year":2017,"week":12,"d":"NONE"},{"year":2017,"week":13,"d":"D0"},{"year":2017,"week":14,"d":"D0"},{"year":2017,"week":15,"d":"D1"},{"year":2017,"week":16,"d":"D1"},{"year":2017,"week":17,"d":"D1"},{"year":2017,"week":18,"d":"D1"},{"year":2017,"week":19,"d":"D1"},{"year":2017,"week":20,"d":"D1"},{"year":2017,"week":21,"d":"D1"},{"year":2017,"week":22,"d":"D0"},{"year":2017,"week":23,"d":"D0"},{"year":2017,"week":24,"d":"NONE"},{"year":2017,"week":25,"d":"NONE"},{"year":2017,"week":26,"d":"NONE"},{"year":2017,"week":27,"d":"D0"},{"year":2017,"week":28,"d":"NONE"},{"year":2017,"week":29,"d":"NONE"},{"year":2017,"week":30,"d":"NONE"},{"year":2017,"week":31,"d":"NONE"},{"year":2017,"week":32,"d":"NONE"},{"year":2017,"week":33,"d":"NONE"},{"year":2017,"week":34,"d":"NONE"},{"year":2017,"week":35,"d":"NONE"},{"year":2017,"week":36,"d":"NONE"},{"year":2017,"week":37,"d":"NONE"},{"year":2017,"week":38,"d":"NONE"},{"year":2017,"week":39,"d":"NONE"},{"year":2017,"week":40,"d":"NONE"},{"year":2017,"week":41,"d":"NONE"},{"year":2017,"week":42,"d":"NONE"},{"year":2017,"week":43,"d":"NONE"},{"year":2017,"week":44,"d":"NONE"},{"year":2017,"week":45,"d":"NONE"},{"year":2017,"week":46,"d":"NONE"},{"year":2017,"week":47,"d":"D0"},{"year":2017,"week":48,"d":"D0"},{"year":2017,"week":49,"d":"D0"},{"year":2017,"week":50,"d":"D1"},{"year":2017,"week":51,"d":"D1"},{"year":2017,"week":52,"d":"D1"},{"year":2017,"week":53,"d":"D1"},
{"year":2018,"week":1,"d":"D1"},{"year":2018,"week":2,"d":"D0"},{"year":2018,"week":3,"d":"D0"},{"year":2018,"week":4,"d":"D0"},{"year":2018,"week":5,"d":"D0"},{"year":2018,"week":6,"d":"D0"},{"year":2018,"week":7,"d":"D0"},{"year":2018,"week":8,"d":"D1"},{"year":2018,"week":9,"d":"D1"},{"year":2018,"week":10,"d":"D1"},{"year":2018,"week":11,"d":"D2"},{"year":2018,"week":12,"d":"D2"},{"year":2018,"week":13,"d":"D2"},{"year":2018,"week":14,"d":"D2"},{"year":2018,"week":15,"d":"D2"},{"year":2018,"week":16,"d":"D2"},{"year":2018,"week":17,"d":"D1"},{"year":2018,"week":18,"d":"D1"},{"year":2018,"week":19,"d":"D1"},{"year":2018,"week":20,"d":"D1"},{"year":2018,"week":21,"d":"D0"},{"year":2018,"week":22,"d":"NONE"},{"year":2018,"week":23,"d":"NONE"},{"year":2018,"week":24,"d":"NONE"},{"year":2018,"week":25,"d":"NONE"},{"year":2018,"week":26,"d":"NONE"},{"year":2018,"week":27,"d":"NONE"},{"year":2018,"week":28,"d":"NONE"},{"year":2018,"week":29,"d":"NONE"},{"year":2018,"week":30,"d":"NONE"},{"year":2018,"week":31,"d":"NONE"},{"year":2018,"week":32,"d":"NONE"},{"year":2018,"week":33,"d":"NONE"},{"year":2018,"week":34,"d":"NONE"},{"year":2018,"week":35,"d":"NONE"},{"year":2018,"week":36,"d":"D0"},{"year":2018,"week":37,"d":"NONE"},{"year":2018,"week":38,"d":"D0"},{"year":2018,"week":39,"d":"D1"},{"year":2018,"week":40,"d":"D1"},{"year":2018,"week":41,"d":"D1"},{"year":2018,"week":42,"d":"D1"},{"year":2018,"week":43,"d":"D1"},{"year":2018,"week":44,"d":"D1"},{"year":2018,"week":45,"d":"D1"},{"year":2018,"week":46,"d":"D1"},{"year":2018,"week":47,"d":"D1"},{"year":2018,"week":48,"d":"D1"},{"year":2018,"week":49,"d":"D0"},{"year":2018,"week":50,"d":"NONE"},{"year":2018,"week":51,"d":"NONE"},{"year":2018,"week":52,"d":"NONE"},{"year":2018,"week":53,"d":"NONE"},
{"year":2019,"week":1,"d":"NONE"},{"year":2019,"week":2,"d":"NONE"},{"year":2019,"week":3,"d":"NONE"},{"year":2019,"week":4,"d":"NONE"},{"year":2019,"week":5,"d":"NONE"},{"year":2019,"week":6,"d":"NONE"},{"year":2019,"week":7,"d":"NONE"},{"year":2019,"week":8,"d":"D0"},{"year":2019,"week":9,"d":"D0"},{"year":2019,"week":10,"d":"D0"},{"year":2019,"week":11,"d":"D0"},{"year":2019,"week":12,"d":"D0"},{"year":2019,"week":13,"d":"D1"},{"year":2019,"week":14,"d":"D1"},{"year":2019,"week":15,"d":"D1"},{"year":2019,"week":16,"d":"D0"},{"year":2019,"week":17,"d":"D0"},{"year":2019,"week":18,"d":"D1"},{"year":2019,"week":19,"d":"D1"},{"year":2019,"week":20,"d":"D1"},{"year":2019,"week":21,"d":"D1"},{"year":2019,"week":22,"d":"D1"},{"year":2019,"week":23,"d":"D2"},{"year":2019,"week":24,"d":"D1"},{"year":2019,"week":25,"d":"D0"},{"year":2019,"week":26,"d":"NONE"},{"year":2019,"week":27,"d":"D0"},{"year":2019,"week":28,"d":"D0"},{"year":2019,"week":29,"d":"D0"},{"year":2019,"week":30,"d":"D0"},{"year":2019,"week":31,"d":"D0"},{"year":2019,"week":32,"d":"NONE"},{"year":2019,"week":33,"d":"D0"},{"year":2019,"week":34,"d":"D0"},{"year":2019,"week":35,"d":"D0"},{"year":2019,"week":36,"d":"D0"},{"year":2019,"week":37,"d":"D0"},{"year":2019,"week":38,"d":"D1"},{"year":2019,"week":39,"d":"D1"},{"year":2019,"week":40,"d":"D2"},{"year":2019,"week":41,"d":"D2"},{"year":2019,"week":42,"d":"D2"},{"year":2019,"week":43,"d":"D1"},{"year":2019,"week":44,"d":"D1"},{"year":2019,"week":45,"d":"D0"},{"year":2019,"week":46,"d":"D0"},{"year":2019,"week":47,"d":"NONE"},{"year":2019,"week":48,"d":"NONE"},{"year":2019,"week":49,"d":"NONE"},{"year":2019,"week":50,"d":"NONE"},{"year":2019,"week":51,"d":"NONE"},{"year":2019,"week":52,"d":"NONE"},{"year":2019,"week":53,"d":"NONE"},
{"year":2020,"week":1,"d":"NONE"},{"year":2020,"week":2,"d":"NONE"},{"year":2020,"week":3,"d":"NONE"},{"year":2020,"week":4,"d":"NONE"},{"year":2020,"week":5,"d":"NONE"},{"year":2020,"week":6,"d":"NONE"},{"year":2020,"week":7,"d":"NONE"},{"year":2020,"week":8,"d":"NONE"},{"year":2020,"week":9,"d":"NONE"},{"year":2020,"week":10,"d":"NONE"},{"year":2020,"week":11,"d":"NONE"},{"year":2020,"week":12,"d":"NONE"},{"year":2020,"week":13,"d":"NONE"},{"year":2020,"week":14,"d":"NONE"},{"year":2020,"week":15,"d":"NONE"},{"year":2020,"week":16,"d":"NONE"},{"year":2020,"week":17,"d":"NONE"},{"year":2020,"week":18,"d":"NONE"},{"year":2020,"week":19,"d":"NONE"},{"year":2020,"week":20,"d":"NONE"},{"year":2020,"week":21,"d":"NONE"},{"year":2020,"week":22,"d":"NONE"},{"year":2020,"week":23,"d":"NONE"},{"year":2020,"week":24,"d":"NONE"},{"year":2020,"week":25,"d":"NONE"},{"year":2020,"week":26,"d":"NONE"},{"year":2020,"week":27,"d":"NONE"},{"year":2020,"week":28,"d":"NONE"},{"year":2020,"week":29,"d":"NONE"},{"year":2020,"week":30,"d":"D0"},{"year":2020,"week":31,"d":"D0"},{"year":2020,"week":32,"d":"D0"},{"year":2020,"week":33,"d":"NONE"},{"year":2020,"week":34,"d":"D0"},{"year":2020,"week":35,"d":"D0"},{"year":2020,"week":36,"d":"D0"},{"year":2020,"week":37,"d":"D0"},{"year":2020,"week":38,"d":"D0"},{"year":2020,"week":39,"d":"D0"},{"year":2020,"week":40,"d":"NONE"},{"year":2020,"week":41,"d":"NONE"},{"year":2020,"week":42,"d":"NONE"},{"year":2020,"week":43,"d":"NONE"},{"year":2020,"week":44,"d":"D0"},{"year":2020,"week":45,"d":"NONE"},{"year":2020,"week":46,"d":"NONE"},{"year":2020,"week":47,"d":"NONE"},{"year":2020,"week":48,"d":"NONE"},{"year":2020,"week":49,"d":"NONE"},{"year":2020,"week":50,"d":"NONE"},{"year":2020,"week":51,"d":"D0"},{"year":2020,"week":52,"d":"D0"},{"year":2020,"week":53,"d":"D0"},
{"year":2021,"week":1,"d":"NONE"},{"year":2021,"week":2,"d":"D0"},{"year":2021,"week":3,"d":"D0"},{"year":2021,"week":4,"d":"D0"},{"year":2021,"week":5,"d":"D0"},{"year":2021,"week":6,"d":"D0"},{"year":2021,"week":7,"d":"D0"},{"year":2021,"week":8,"d":"D0"},{"year":2021,"week":9,"d":"NONE"},{"year":2021,"week":10,"d":"NONE"},{"year":2021,"week":11,"d":"NONE"},{"year":2021,"week":12,"d":"NONE"},{"year":2021,"week":13,"d":"NONE"},{"year":2021,"week":14,"d":"NONE"},{"year":2021,"week":15,"d":"NONE"},{"year":2021,"week":16,"d":"NONE"},{"year":2021,"week":17,"d":"D0"},{"year":2021,"week":18,"d":"NONE"},{"year":2021,"week":19,"d":"NONE"},{"year":2021,"week":20,"d":"NONE"},{"year":2021,"week":21,"d":"NONE"},{"year":2021,"week":22,"d":"D0"},{"year":2021,"week":23,"d":"D0"},{"year":2021,"week":24,"d":"D0"},{"year":2021,"week":25,"d":"NONE"},{"year":2021,"week":26,"d":"NONE"},{"year":2021,"week":27,"d":"NONE"},{"year":2021,"week":28,"d":"NONE"},{"year":2021,"week":29,"d":"NONE"},{"year":2021,"week":30,"d":"NONE"},{"year":2021,"week":31,"d":"NONE"},{"year":2021,"week":32,"d":"NONE"},{"year":2021,"week":33,"d":"NONE"},{"year":2021,"week":34,"d":"NONE"},{"year":2021,"week":35,"d":"NONE"},{"year":2021,"week":36,"d":"NONE"},{"year":2021,"week":37,"d":"D0"},{"year":2021,"week":38,"d":"D0"},{"year":2021,"week":39,"d":"NONE"},{"year":2021,"week":40,"d":"NONE"},{"year":2021,"week":41,"d":"NONE"},{"year":2021,"week":42,"d":"NONE"},{"year":2021,"week":43,"d":"D0"},{"year":2021,"week":44,"d":"D0"},{"year":2021,"week":45,"d":"D0"},{"year":2021,"week":46,"d":"NONE"},{"year":2021,"week":47,"d":"NONE"},{"year":2021,"week":48,"d":"NONE"},{"year":2021,"week":49,"d":"NONE"},{"year":2021,"week":50,"d":"NONE"},{"year":2021,"week":51,"d":"NONE"},{"year":2021,"week":52,"d":"NONE"},{"year":2021,"week":53,"d":"NONE"},
{"year":2022,"week":1,"d":"NONE"},{"year":2022,"week":2,"d":"NONE"},{"year":2022,"week":3,"d":"D0"},{"year":2022,"week":4,"d":"D0"},{"year":2022,"week":5,"d":"D0"},{"year":2022,"week":6,"d":"D0"},{"year":2022,"week":7,"d":"D0"},{"year":2022,"week":8,"d":"D1"},{"year":2022,"week":9,"d":"D1"},{"year":2022,"week":10,"d":"D1"},{"year":2022,"week":11,"d":"D1"},{"year":2022,"week":12,"d":"D1"},{"year":2022,"week":13,"d":"D1"},{"year":2022,"week":14,"d":"D1"},{"year":2022,"week":15,"d":"D1"},{"year":2022,"week":16,"d":"D1"},{"year":2022,"week":17,"d":"D1"},{"year":2022,"week":18,"d":"D1"},{"year":2022,"week":19,"d":"D1"},{"year":2022,"week":20,"d":"D2"},{"year":2022,"week":21,"d":"D2"},{"year":2022,"week":22,"d":"D2"},{"year":2022,"week":23,"d":"D2"},{"year":2022,"week":24,"d":"D2"},{"year":2022,"week":25,"d":"D2"},{"year":2022,"week":26,"d":"D2"},{"year":2022,"week":27,"d":"D2"},{"year":2022,"week":28,"d":"D2"},{"year":2022,"week":29,"d":"D1"},{"year":2022,"week":30,"d":"D1"},{"year":2022,"week":31,"d":"D0"},{"year":2022,"week":32,"d":"D0"},{"year":2022,"week":33,"d":"D0"},{"year":2022,"week":34,"d":"D0"},{"year":2022,"week":35,"d":"NONE"},{"year":2022,"week":36,"d":"NONE"},{"year":2022,"week":37,"d":"NONE"},{"year":2022,"week":38,"d":"NONE"},{"year":2022,"week":39,"d":"NONE"},{"year":2022,"week":40,"d":"NONE"},{"year":2022,"week":41,"d":"NONE"},{"year":2022,"week":42,"d":"D0"},{"year":2022,"week":43,"d":"D0"},{"year":2022,"week":44,"d":"D0"},{"year":2022,"week":45,"d":"D0"},{"year":2022,"week":46,"d":"D1"},{"year":2022,"week":47,"d":"D0"},{"year":2022,"week":48,"d":"D0"},{"year":2022,"week":49,"d":"D0"},{"year":2022,"week":50,"d":"D0"},{"year":2022,"week":51,"d":"D1"},{"year":2022,"week":52,"d":"D1"},{"year":2022,"week":53,"d":"D1"},
{"year":2023,"week":1,"d":"NONE"},{"year":2023,"week":2,"d":"D1"},{"year":2023,"week":3,"d":"D1"},{"year":2023,"week":4,"d":"D1"},{"year":2023,"week":5,"d":"D1"},{"year":2023,"week":6,"d":"D0"},{"year":2023,"week":7,"d":"D0"},{"year":2023,"week":8,"d":"D0"},{"year":2023,"week":9,"d":"D0"},{"year":2023,"week":10,"d":"D0"},{"year":2023,"week":11,"d":"D0"},{"year":2023,"week":12,"d":"NONE"},{"year":2023,"week":13,"d":"NONE"},{"year":2023,"week":14,"d":"NONE"},{"year":2023,"week":15,"d":"NONE"},{"year":2023,"week":16,"d":"NONE"},{"year":2023,"week":17,"d":"NONE"},{"year":2023,"week":18,"d":"D0"},{"year":2023,"week":19,"d":"NONE"},{"year":2023,"week":20,"d":"NONE"},{"year":2023,"week":21,"d":"NONE"},{"year":2023,"week":22,"d":"NONE"},{"year":2023,"week":23,"d":"NONE"},{"year":2023,"week":24,"d":"NONE"},{"year":2023,"week":25,"d":"NONE"},{"year":2023,"week":26,"d":"NONE"},{"year":2023,"week":27,"d":"NONE"},{"year":2023,"week":28,"d":"NONE"},{"year":2023,"week":29,"d":"NONE"},{"year":2023,"week":30,"d":"NONE"},{"year":2023,"week":31,"d":"NONE"},{"year":2023,"week":32,"d":"NONE"},{"year":2023,"week":33,"d":"NONE"},{"year":2023,"week":34,"d":"NONE"},{"year":2023,"week":35,"d":"NONE"},{"year":2023,"week":36,"d":"NONE"},{"year":2023,"week":37,"d":"NONE"},{"year":2023,"week":38,"d":"NONE"},{"year":2023,"week":39,"d":"NONE"},{"year":2023,"week":40,"d":"NONE"},{"year":2023,"week":41,"d":"D0"},{"year":2023,"week":42,"d":"D0"},{"year":2023,"week":43,"d":"D0"},{"year":2023,"week":44,"d":"D0"},{"year":2023,"week":45,"d":"D0"},{"year":2023,"week":46,"d":"D0"},{"year":2023,"week":47,"d":"D0"},{"year":2023,"week":48,"d":"D1"},{"year":2023,"week":49,"d":"D1"},{"year":2023,"week":50,"d":"D1"},{"year":2023,"week":51,"d":"D1"},{"year":2023,"week":52,"d":"D0"},{"year":2023,"week":53,"d":"NONE"},
{"year":2024,"week":1,"d":"NONE"},{"year":2024,"week":2,"d":"NONE"},{"year":2024,"week":3,"d":"NONE"},{"year":2024,"week":4,"d":"NONE"},{"year":2024,"week":5,"d":"NONE"},{"year":2024,"week":6,"d":"NONE"},{"year":2024,"week":7,"d":"NONE"},{"year":2024,"week":8,"d":"NONE"},{"year":2024,"week":9,"d":"NONE"},{"year":2024,"week":10,"d":"NONE"},{"year":2024,"week":11,"d":"NONE"},{"year":2024,"week":12,"d":"NONE"},{"year":2024,"week":13,"d":"NONE"},{"year":2024,"week":14,"d":"NONE"},{"year":2024,"week":15,"d":"NONE"},{"year":2024,"week":16,"d":"NONE"},{"year":2024,"week":17,"d":"NONE"},{"year":2024,"week":18,"d":"NONE"},{"year":2024,"week":19,"d":"NONE"},{"year":2024,"week":20,"d":"NONE"},{"year":2024,"week":21,"d":"NONE"},{"year":2024,"week":22,"d":"NONE"},{"year":2024,"week":23,"d":"NONE"},{"year":2024,"week":24,"d":"NONE"},{"year":2024,"week":25,"d":"D0"},{"year":2024,"week":26,"d":"D0"},{"year":2024,"week":27,"d":"D0"},{"year":2024,"week":28,"d":"D0"},{"year":2024,"week":29,"d":"D0"},{"year":2024,"week":30,"d":"D0"},{"year":2024,"week":31,"d":"D0"},{"year":2024,"week":32,"d":"NONE"},{"year":2024,"week":33,"d":"NONE"},{"year":2024,"week":34,"d":"NONE"},{"year":2024,"week":35,"d":"NONE"},{"year":2024,"week":36,"d":"NONE"},{"year":2024,"week":37,"d":"NONE"},{"year":2024,"week":38,"d":"NONE"},{"year":2024,"week":39,"d":"D0"},{"year":2024,"week":40,"d":"NONE"},{"year":2024,"week":41,"d":"D0"},{"year":2024,"week":42,"d":"D0"},{"year":2024,"week":43,"d":"D0"},{"year":2024,"week":44,"d":"D0"},{"year":2024,"week":45,"d":"D1"},{"year":2024,"week":46,"d":"D0"},{"year":2024,"week":47,"d":"D0"},{"year":2024,"week":48,"d":"D0"},{"year":2024,"week":49,"d":"D0"},{"year":2024,"week":50,"d":"D0"},{"year":2024,"week":51,"d":"D0"},{"year":2024,"week":52,"d":"D0"},{"year":2024,"week":53,"d":"D0"},
{"year":2025,"week":1,"d":"NONE"},{"year":2025,"week":2,"d":"D0"},{"year":2025,"week":3,"d":"D0"},{"year":2025,"week":4,"d":"D0"},{"year":2025,"week":5,"d":"NONE"},{"year":2025,"week":6,"d":"NONE"},{"year":2025,"week":7,"d":"D0"},{"year":2025,"week":8,"d":"D0"},{"year":2025,"week":9,"d":"D0"},{"year":2025,"week":10,"d":"D1"},{"year":2025,"week":11,"d":"D0"},{"year":2025,"week":12,"d":"D0"},{"year":2025,"week":13,"d":"D0"},{"year":2025,"week":14,"d":"D0"},{"year":2025,"week":15,"d":"D0"},{"year":2025,"week":16,"d":"D0"},{"year":2025,"week":17,"d":"D1"},{"year":2025,"week":18,"d":"D1"},{"year":2025,"week":19,"d":"D1"},{"year":2025,"week":20,"d":"D0"},{"year":2025,"week":21,"d":"NONE"},{"year":2025,"week":22,"d":"NONE"},{"year":2025,"week":23,"d":"NONE"},{"year":2025,"week":24,"d":"NONE"},{"year":2025,"week":25,"d":"NONE"},{"year":2025,"week":26,"d":"NONE"},{"year":2025,"week":27,"d":"NONE"},{"year":2025,"week":28,"d":"NONE"},{"year":2025,"week":29,"d":"NONE"},{"year":2025,"week":30,"d":"NONE"},{"year":2025,"week":31,"d":"NONE"},{"year":2025,"week":32,"d":"NONE"},{"year":2025,"week":33,"d":"NONE"},{"year":2025,"week":34,"d":"NONE"},{"year":2025,"week":35,"d":"NONE"},{"year":2025,"week":36,"d":"NONE"},{"year":2025,"week":37,"d":"NONE"},{"year":2025,"week":38,"d":"NONE"},{"year":2025,"week":39,"d":"NONE"},{"year":2025,"week":40,"d":"D0"},{"year":2025,"week":41,"d":"D0"},{"year":2025,"week":42,"d":"D0"},{"year":2025,"week":43,"d":"D0"},{"year":2025,"week":44,"d":"D0"},{"year":2025,"week":45,"d":"D0"},{"year":2025,"week":46,"d":"D0"},{"year":2025,"week":47,"d":"D1"},{"year":2025,"week":48,"d":"D1"},{"year":2025,"week":49,"d":"D1"},{"year":2025,"week":50,"d":"D1"},{"year":2025,"week":51,"d":"D1"},{"year":2025,"week":52,"d":"D1"},{"year":2025,"week":53,"d":"D1"},
{"year":2026,"week":1,"d":"NONE"},{"year":2026,"week":2,"d":"D2"},{"year":2026,"week":3,"d":"D2"},{"year":2026,"week":4,"d":"D3"},{"year":2026,"week":5,"d":"D3"},{"year":2026,"week":6,"d":"D3"},{"year":2026,"week":7,"d":"D3"},{"year":2026,"week":8,"d":"D3"},{"year":2026,"week":9,"d":"D3"},{"year":2026,"week":10,"d":"D3"},{"year":2026,"week":11,"d":"D3"},{"year":2026,"week":12,"d":"D3"},{"year":2026,"week":13,"d":"D3"},{"year":2026,"week":14,"d":"D3"},{"year":2026,"week":15,"d":"D3"},{"year":2026,"week":16,"d":"D3"},{"year":2026,"week":17,"d":"D3"},{"year":2026,"week":18,"d":"D4"},{"year":2026,"week":19,"d":"D4"},{"year":2026,"week":20,"d":"D4"},{"year":2026,"week":21,"d":"D4"},{"year":2026,"week":22,"d":"D4"},{"year":2026,"week":23,"d":"D3"},{"year":2026,"week":24,"d":"D3"},{"year":2026,"week":25,"d":"D3"},{"year":2026,"week":26,"d":"D2"},{"year":2026,"week":27,"d":"D2"},{"year":2026,"week":28,"d":"D2"},{"year":2026,"week":29,"d":"D1"},{"year":2026,"week":30,"d":"D1"},{"year":2026,"week":31,"d":"D1"},{"year":2026,"week":32,"d":"D1"},{"year":2026,"week":33,"d":"D1"},{"year":2026,"week":34,"d":"NONE"},{"year":2026,"week":35,"d":"NONE"},{"year":2026,"week":36,"d":"NONE"},{"year":2026,"week":37,"d":"NONE"},{"year":2026,"week":38,"d":"NONE"},{"year":2026,"week":39,"d":"NONE"},{"year":2026,"week":40,"d":"NONE"},{"year":2026,"week":41,"d":"NONE"},{"year":2026,"week":42,"d":"NONE"},{"year":2026,"week":43,"d":"NONE"},{"year":2026,"week":44,"d":"NONE"},{"year":2026,"week":45,"d":"NONE"},{"year":2026,"week":46,"d":"NONE"},{"year":2026,"week":47,"d":"NONE"},{"year":2026,"week":48,"d":"NONE"},{"year":2026,"week":49,"d":"NONE"},{"year":2026,"week":50,"d":"NONE"},{"year":2026,"week":51,"d":"NONE"},{"year":2026,"week":52,"d":"NONE"},{"year":2026,"week":53,"d":"NONE"}
]},
"mark":{"type":"rect"},
"encoding":{
"x":{"field":"week","type":"ordinal","scale":{"range":[198,3405],"paddingInner":0.157,"paddingOuter":0.0785},
"axis":{"orient":"top","offset":-279,"values":[1,5,9,14,18,22,27,31,35,40,44,48],"labelExpr":"datum.value==1?'JAN':datum.value==5?'FEB':datum.value==9?'MAR':datum.value==14?'APR':datum.value==18?'MAY':datum.value==22?'JUN':datum.value==27?'JUL':datum.value==31?'AUG':datum.value==35?'SEP':datum.value==40?'OCT':datum.value==44?'NOV':'DEC'","labelAngle":0,"labelPadding":0,"ticks":false,"tickSize":0,"domain":false,"labelFont":"DejaVu Sans","labelFontSize":39,"labelColor":"#d9c59c","title":"driestsince.com  · U.S. Drought Monitor ·NDMC / NOAA / USDA","titleX":170,"titleY":866,"titleAnchor":"start","titleAlign":"left","titleBaseline":"alphabetic","titleFont":"DejaVu Sans","titleFontSize":35,"titleFontWeight":"normal","titleColor":"#d9c59c"}},
"y":{"field":"year","type":"ordinal","scale":{"range":[299.3,1118.8],"paddingInner":0.242,"paddingOuter":0.121},
"axis":{"orient":"left","offset":-153,"labelPadding":0,"ticks":false,"tickSize":0,"domain":false,"labelFont":"DejaVu Sans","labelFontSize":39,"labelColor":"#dcc9a0","labelBaseline":"middle","title":"driestsince.com","titleAngle":0,"titleX":3250,"titleY":1145,"titleAnchor":"end","titleAlign":"right","titleBaseline":"alphabetic","titleFont":"DejaVu Sans","titleFontSize":38,"titleFontWeight":"bold","titleColor":"#f2c24f"}},
"color":{"field":"d","type":"nominal","scale":{"domain":["NONE","D0","D1","D2","D3","D4"],"range":["#4a3a20","#ffff00","#fcd37f","#ffaa00","#e60000","#730000"]},
"legend":{"orient":"none","legendX":2320,"legendY":52,"direction":"horizontal","columns":6,"title":null,"symbolType":"M-1,-0.55H1V0.55H-1Z","symbolSize":5329,"symbolStrokeColor":"#1e150a","symbolStrokeWidth":3,"symbolOpacity":1,"labelFont":"Lato","labelFontSize":39,"labelFontWeight":"bold","labelColor":"#fff6e4","labelOffset":14,"columnPadding":-4,"padding":0,"labelExpr":"datum.label == 'NONE' ? datum.label : datum.label + '     \u200b'"}}
},
"config":{"view":{"stroke":"#8a6c38","strokeWidth":3,"fill":{"gradient":"linear","x1":0,"y1":0,"x2":0,"y2":1,"stops":[{"offset":0,"color":"#3a2c15"},{"offset":1,"color":"#1d150a"}]}}}
}
